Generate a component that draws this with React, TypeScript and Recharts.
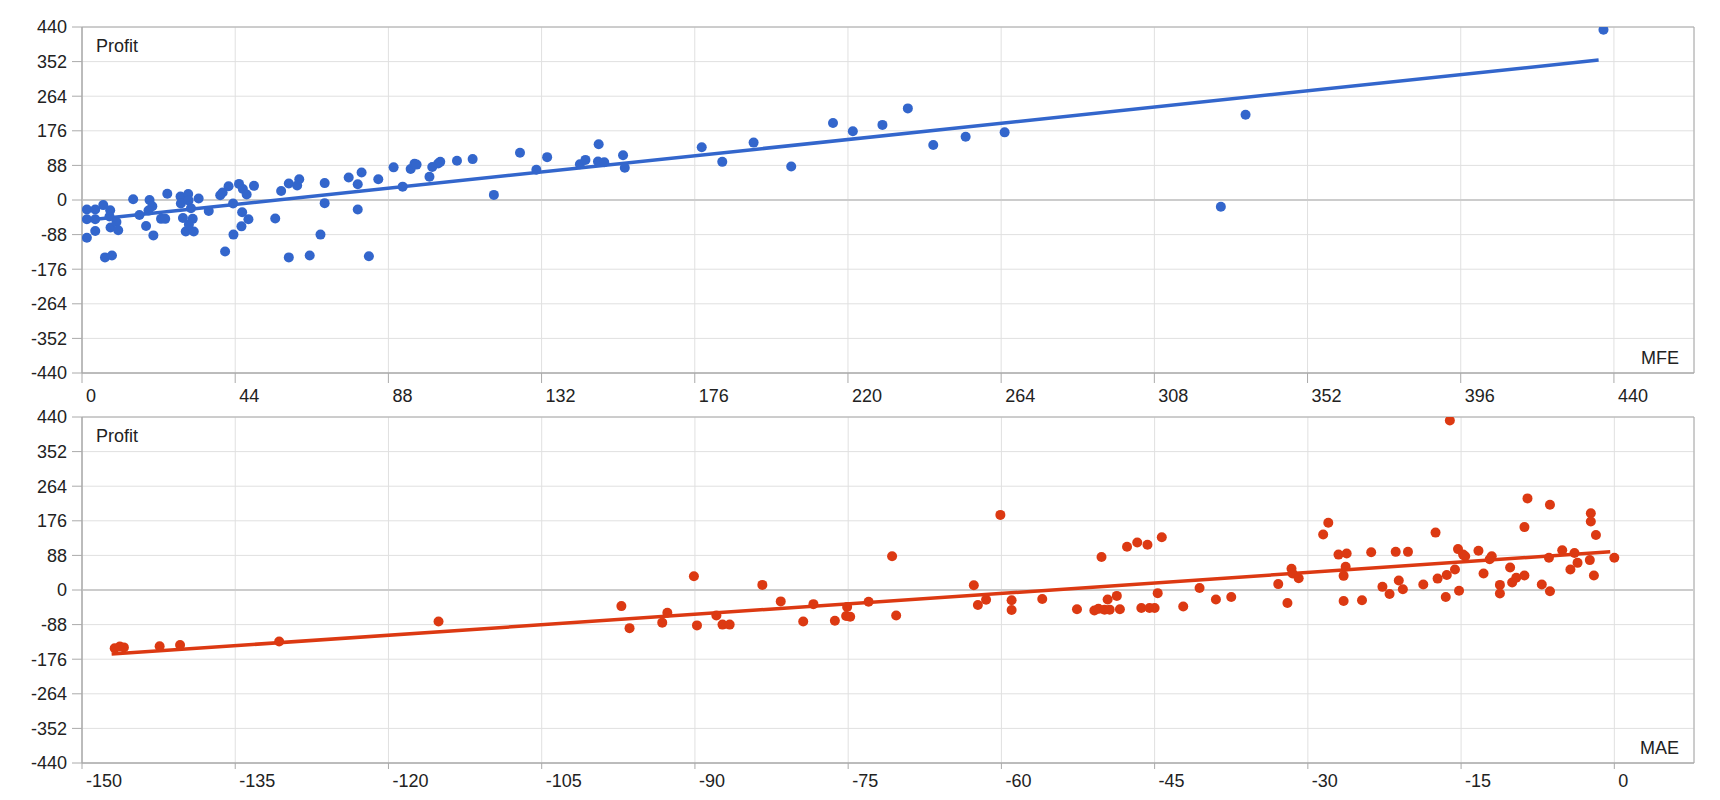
import React from "react";
import {
  CartesianGrid,
  ReferenceArea,
  ReferenceLine,
  Scatter,
  ScatterChart,
  XAxis,
  YAxis,
} from "recharts";

// [MFE, Profit] per trade
const mfeTrades: [number, number][] = [
  [1.4, -24], [1.4, -49], [1.4, -96], [3.8, -24], [3.8, -49], [3.8, -79],
  [6.1, -13], [6.6, -146], [8.6, -141], [8.1, -26], [7.9, -42], [8.2, -70],
  [9.9, -56], [10.4, -77], [14.7, 2], [16.5, -38], [18.4, -66], [19.4, 0],
  [20.2, -16], [19.1, -27], [20.5, -90], [22.7, -48], [23.9, -48], [24.5, 16],
  [28.3, 9], [28.4, -9], [30.5, 15], [30.6, -1], [31.3, -21], [29, -46],
  [31.8, -48], [29.8, -80], [32.1, -80], [30.7, -62], [33.5, 4], [36.4, -28],
  [39.7, 12], [40.4, 19], [42.1, 35], [41.1, -131], [43.4, -9], [43.5, -88],
  [45.1, 41], [46.2, 28], [47.3, 14], [46, -31], [47.8, -49], [45.8, -67],
  [49.4, 36], [55.5, -47], [57.2, 23], [59.4, 42], [61.8, 37], [62.4, 53],
  [59.4, -146], [65.4, -141], [68.5, -88], [69.7, 43], [69.7, -8], [76.6, 57],
  [79.2, 40], [80.3, 70], [79.2, -24], [82.4, -143], [85.1, 53], [89.5, 83],
  [92.1, 34], [94.4, 79], [95.5, 92], [96.1, 90], [99.8, 59], [100.6, 84],
  [102.3, 93], [102.9, 97], [107.7, 100], [112.2, 104], [118.3, 13], [125.8, 120],
  [130.5, 77], [133.6, 109], [143, 91], [144.6, 102], [148.4, 142], [148.2, 98],
  [150, 96], [155.4, 114], [155.9, 82], [178, 134], [183.9, 97], [192.9, 146],
  [203.7, 85], [215.7, 196], [221.4, 175], [229.9, 191], [237.2, 233], [244.5, 140],
  [253.8, 161], [265, 172], [327.1, -17], [334.2, 217], [437, 433],
];

// [MAE, Profit] per trade
const maeTrades: [number, number][] = [
  [-146.8, -148], [-146.3, -144], [-145.9, -146], [-142.4, -143], [-140.4, -140],
  [-130.7, -131], [-115.1, -80], [-97.2, -41], [-96.4, -97], [-93.2, -83],
  [-92.7, -58], [-90.1, 35], [-89.8, -90], [-87.9, -65], [-87.3, -88], [-86.6, -88],
  [-83.4, 13], [-81.6, -29], [-79.4, -80], [-78.4, -36], [-76.3, -78], [-75.1, -43],
  [-75.2, -66], [-74.8, -68], [-73, -30], [-70.7, 86], [-70.3, -65], [-62.7, 12],
  [-62.3, -38], [-61.5, -25], [-60.1, 191], [-59, -26], [-59, -51], [-56, -23],
  [-52.6, -49], [-50.9, -52], [-50.5, -48], [-49.9, -50], [-49.4, -50], [-49.6, -24],
  [-48.7, -15], [-48.4, -49], [-50.2, 84], [-47.7, 110], [-46.7, 121], [-45.7, 115],
  [-44.3, 134], [-46.3, -46], [-45.5, -46], [-45, -46], [-44.7, -8], [-42.2, -42],
  [-40.6, 5], [-39, -24], [-37.5, -18], [-32.9, 15], [-32, -33], [-31.6, 54],
  [-31.5, 42], [-30.9, 30], [-28.5, 141], [-28, 171], [-27, 90], [-26.2, 93],
  [-26.3, 59], [-26.5, 36], [-26.5, -28], [-24.7, -26], [-23.8, 96], [-22.7, 8],
  [-22, -10], [-21.4, 97], [-21.1, 24], [-20.7, 2], [-20.2, 97], [-18.7, 14],
  [-17.5, 146], [-17.3, 29], [-16.4, 38], [-16.5, -18], [-16.1, 431], [-15.6, 52],
  [-15.3, 104], [-14.8, 90], [-14.6, 86], [-15.2, -2], [-13.3, 100], [-12.8, 42],
  [-12, 86], [-12.2, 78], [-11.2, 13], [-11.2, -9], [-10.2, 57], [-10, 19],
  [-9.6, 31], [-8.8, 37], [-8.8, 160], [-8.5, 233], [-7.1, 14], [-6.3, 217],
  [-6.4, 82], [-6.3, -3], [-5.1, 101], [-4.3, 52], [-3.9, 94], [-3.6, 69],
  [-2.3, 195], [-2.3, 174], [-1.8, 140], [-2.4, 76], [-2, 37], [0, 82],
];

// linear trend line ends
const mfeTrend: [number, number][] = [[0.5, -52], [435.6, 356]];
const maeTrend: [number, number][] = [[-147.1, -163], [-0.4, 97]];

const profitTicks = [-440, -352, -264, -176, -88, 0, 88, 176, 264, 352, 440];
const mfeTicks = [0, 44, 88, 132, 176, 220, 264, 308, 352, 396, 440];
const maeTicks = [-150, -135, -120, -105, -90, -75, -60, -45, -30, -15, 0];

const BLUE = "#3366cc";
const RED = "#dc3912";
const FONT = "'Liberation Sans', Arial, sans-serif";
const TEXT = "#222";

const toPts = (rows: [number, number][]) => rows.map(([x, y]) => ({ x, y }));

const XTick = (props: any) => {
  const { x, y, payload } = props;
  return (
    <text x={x + 4} y={y} dy="0.71em" textAnchor="start" fontSize={18} fontFamily={FONT} fill={TEXT}>
      {payload.value}
    </text>
  );
};

type PanelProps = {
  rows: [number, number][];
  trend: [number, number][];
  color: string;
  xDomain: [number, number];
  xTicks: number[];
  xName: string;
  xTickSize: number;
  xTickMargin: number;
};

const Panel = ({ rows, trend, color, xDomain, xTicks, xName, xTickSize, xTickMargin }: PanelProps) => (
  <ScatterChart width={1720} height={410} margin={{ top: 27, right: 26, bottom: 0, left: 0 }}>
    <CartesianGrid stroke="#e0e0e0" />
    <XAxis
      type="number"
      dataKey="x"
      domain={xDomain}
      ticks={xTicks}
      interval={0}
      allowDataOverflow
      height={37}
      tickSize={xTickSize}
      tickMargin={xTickMargin}
      stroke="#aaa"
      tick={<XTick />}
      label={(p: any) => (
        <text
          x={p.viewBox.x + p.viewBox.width - 15}
          y={p.viewBox.y - 9.5}
          textAnchor="end"
          fontSize={18}
          fontFamily={FONT}
          fill={TEXT}
        >
          {xName}
        </text>
      )}
    />
    <YAxis
      type="number"
      dataKey="y"
      domain={[-440, 440]}
      ticks={profitTicks}
      interval={0}
      allowDataOverflow
      width={82}
      tickSize={10}
      tickMargin={5}
      stroke="#aaa"
      tick={{ fill: TEXT, fontSize: 18, fontFamily: FONT }}
      label={(p: any) => (
        <text
          x={p.viewBox.x + p.viewBox.width + 14}
          y={p.viewBox.y + 24.5}
          textAnchor="start"
          fontSize={18}
          fontFamily={FONT}
          fill={TEXT}
        >
          Profit
        </text>
      )}
    />
    <ReferenceLine y={0} stroke="#cccccc" strokeWidth={2} />
    <ReferenceArea x1={xDomain[0]} x2={xDomain[1]} y1={-440} y2={440} fill="none" stroke="#aaa" />
    <Scatter
      data={toPts(trend)}
      line={{ stroke: color, strokeWidth: 3.5 }}
      shape={() => <g />}
      isAnimationActive={false}
    />
    <Scatter
      data={toPts(rows)}
      shape={(p: any) => <circle cx={p.cx} cy={p.cy} r={5} fill={color} />}
      isAnimationActive={false}
    />
  </ScatterChart>
);

export default function App() {
  return (
    <div style={{ position: "absolute", left: 0, top: 0, width: 1720, height: 800, background: "#fff" }}>
      <div style={{ position: "absolute", left: 0, top: 0 }}>
        <Panel
          rows={mfeTrades}
          trend={mfeTrend}
          color={BLUE}
          xDomain={[0, 463]}
          xTicks={mfeTicks}
          xName="MFE"
          xTickSize={10}
          xTickMargin={6}
        />
      </div>
      <div style={{ position: "absolute", left: 0, top: 390 }}>
        <Panel
          rows={maeTrades}
          trend={maeTrend}
          color={RED}
          xDomain={[-150, 7.8]}
          xTicks={maeTicks}
          xName="MAE"
          xTickSize={6}
          xTickMargin={5}
        />
      </div>
    </div>
  );
}
